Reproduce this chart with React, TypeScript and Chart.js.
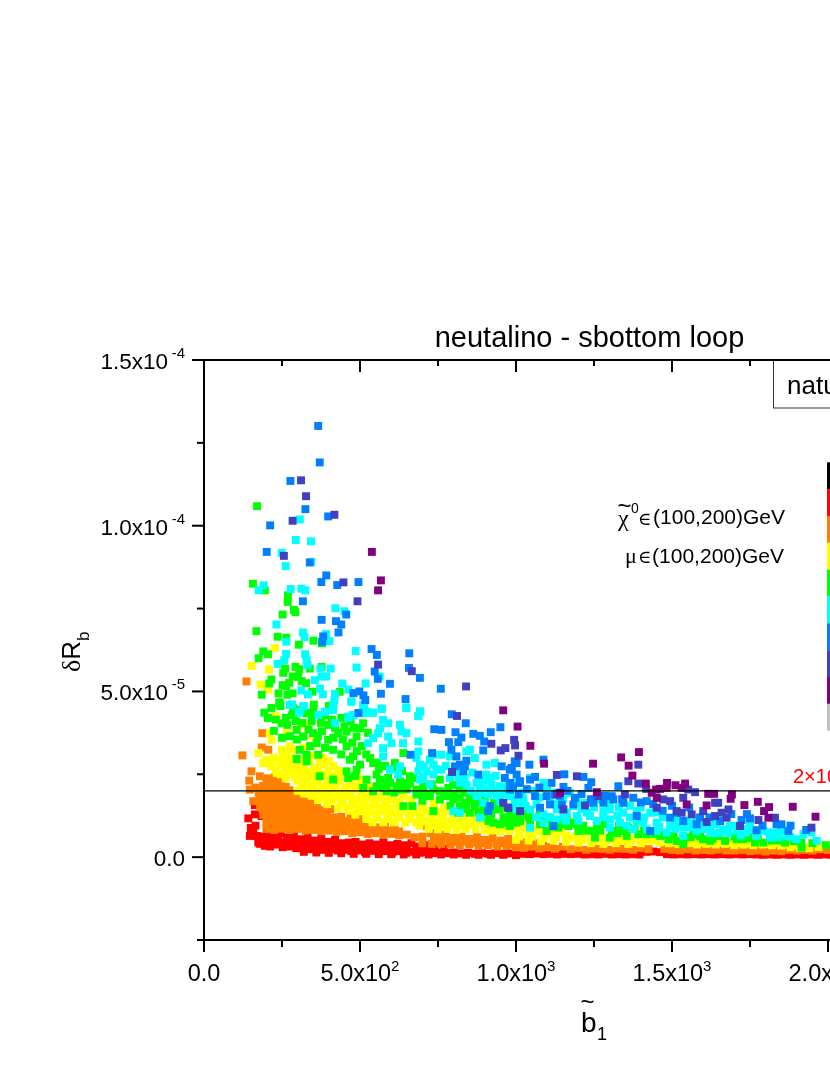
import React, { useEffect, useRef } from "react";
import { Chart, registerables } from "chart.js";

Chart.register(...registerables);

// Each list holds x, y pairs: x = sbottom mass, y = deltaRb in units of 1e-5.
const redPts = [
  163,1.57, 163,1.29, 142,1.17, 185,1.24, 158,.74, 147,.64, 174,.44, 169,.64, 165,.95, 150,.88,
  185,.62, 205,.7, 225,.64, 245,.72, 265,.6, 288,.66, 310,.54, 332,.62, 354,.5, 376,.57, 398,.46, 420,.52,
  442,.42, 464,.44, 486,.46, 508,.38, 530,.42, 552,.38, 575,.45, 597,.36, 620,.4, 642,.36, 665,.42, 688,.32, 710,.36, 733,.3,
  180,.4, 195,.34, 212,.32, 232,.38, 252,.3, 274,.32, 296,.27, 318,.3, 340,.24, 362,.26, 384,.22, 406,.25, 428,.2, 450,.22,
  472,.18, 494,.2, 516,.16, 538,.19, 560,.15, 582,.18, 604,.14, 626,.18, 648,.13, 670,.16, 692,.13, 714,.15, 736,.12, 758,.14,
  780,.12, 802,.14, 824,.11, 846,.13, 868,.1, 890,.12, 912,.1, 934,.12, 956,.1, 978,.11, 1000,.09, 1022,.1, 1044,.09, 1066,.11,
  1088,.09, 1110,.1, 1132,.08, 1154,.1, 1176,.09, 1198,.1, 1220,.08, 1242,.09, 1264,.08, 1286,.1, 1308,.08, 1330,.09, 1352,.08,
  1374,.09, 1396,.08, 1418,.16, 1440,.17, 1462,.15, 1484,.09, 1506,.08, 1528,.09, 1550,.08, 1572,.09, 1594,.08, 1616,.09,
  1638,.08, 1660,.09, 1682,.08, 1704,.09, 1726,.08, 1748,.09, 1770,.08, 1792,.07, 1814,.08, 1836,.07, 1858,.08, 1880,.07,
  1902,.08, 1924,.07, 1946,.08, 1968,.07, 1990,.08, 2010,.07,
  190,.5, 212,.52, 238,.5, 262,.44, 285,.48, 305,.42, 330,.44, 352,.38, 375,.42, 395,.34, 420,.36, 445,.3, 470,.3, 495,.32, 520,.3, 545,.28, 570,.3, 595,.26, 620,.28, 650,.27, 680,.25, 710,.25, 740,.22, 770,.25,
  320,.16, 360,.14, 400,.13, 440,.12, 480,.1, 520,.1, 560,.09, 600,.09, 640,.08, 680,.08, 720,.08, 760,.08, 800,.08, 840,.07, 880,.07, 920,.07, 960,.07, 1000,.06,
];
const orangePts = [
  136,5.3, 187,3.74, 185,3.31, 206,3.24, 123,3.07, 152,2.59, 179,2.44, 145,2.31, 147,2.04, 158,1.69,
  205,2.38, 228,2.42, 250,2.38, 190,2.15, 215,2.18, 238,2.2, 262,2.12, 175,1.95, 198,1.95, 222,1.92, 246,1.98, 270,1.92, 295,1.88,
  178,1.72, 200,1.75, 225,1.72, 250,1.75, 275,1.7, 300,1.72, 325,1.68, 350,1.65,
  180,1.52, 205,1.5, 230,1.52, 255,1.48, 280,1.52, 305,1.5, 330,1.45, 355,1.48, 380,1.42, 405,1.45,
  190,1.28, 215,1.32, 240,1.28, 265,1.3, 290,1.26, 315,1.3, 340,1.25, 365,1.28, 390,1.22, 415,1.2, 440,1.22, 470,1.18, 500,1.15,
  200,1.05, 225,1.08, 250,1.05, 275,1.08, 300,1.02, 325,1.05, 350,1, 375,1.03, 400,1, 430,.98, 460,.98, 490,.95, 520,.92, 550,.9, 580,.92, 610,.88,
  200,.85, 225,.82, 250,.86, 275,.82, 300,.85, 325,.8, 350,.82, 375,.78, 400,.8, 425,.76, 450,.78, 475,.72, 500,.75, 525,.7, 550,.72, 575,.68, 600,.7, 625,.66, 650,.68, 675,.6,
  713,.94, 700,.62, 725,.72, 750,.6, 775,.68, 800,.58, 825,.62, 850,.55, 875,.6, 900,.52, 925,.58, 950,.5, 975,.55, 1000,.48, 1025,.45, 1050,.5, 1075,.42,
  700,.42, 730,.4, 760,.4, 790,.38, 820,.36, 850,.38, 880,.34, 910,.36, 940,.32, 970,.34, 1000,.3, 1025,.28, 1050,.32, 1075,.26, 1100,.3, 1125,.25, 1150,.32, 1175,.24,
  1200,.28, 1225,.22, 1250,.26, 1275,.25, 1300,.22, 1325,.26, 1350,.25, 1375,.22, 1400,.28, 1425,.24, 1475,.25, 1500,.22, 1525,.2, 1550,.24, 1575,.2, 1600,.22,
  1625,.2, 1650,.23, 1675,.2, 1700,.2, 1725,.22, 1750,.18, 1775,.2, 1800,.17, 1825,.2, 1850,.18, 1875,.22, 1900,.2, 1925,.22, 1950,.2, 1975,.24, 2000,.22,
  212,.95, 237,.96, 262,.95, 287,.94, 312,.93, 337,.92, 362,.92, 387,.9, 415,.9, 445,.88, 475,.85, 505,.85, 535,.82, 565,.82, 595,.8, 625,.78,
  202,1.18, 227,1.2, 252,1.16, 277,1.18, 302,1.15, 327,1.16, 352,1.14, 377,1.15, 402,1.12, 427,1.1, 455,1.08, 485,1.05, 515,1.03,
  192,1.4, 217,1.42, 242,1.38, 267,1.4, 292,1.38, 317,1.38, 342,1.36, 367,1.35, 392,1.32,
  190,1.62, 212,1.62, 237,1.6, 262,1.62, 287,1.6, 312,1.6, 337,1.55, 362,1.55, 186,1.84, 210,1.85, 234,1.84, 258,1.86, 283,1.82, 308,1.8,
  165,2.1, 202,2.06, 226,2.05, 250,2.08, 274,2.02, 200,2.28, 222,2.3, 246,2.28,
  737,.5, 762,.5, 787,.48, 812,.46, 837,.46, 862,.44, 887,.42, 912,.44, 937,.4, 962,.42, 987,.38, 1012,.36, 1037,.38, 1062,.34, 1087,.34, 1112,.3,
];
const yellowPts = [
  227,6.31, 153,5.77, 208,5.66, 182,5.21, 205,5.06, 230,4.27, 211,3.74, 174,3.14, 217,3.54, 190,2.84, 201,2.94, 233,2.54, 249,3.24, 265,3.74, 254,3.04, 275,3.34,
  270,2.74, 297,2.69, 318,3.64, 350,3.64, 307,3.99, 329,3.99, 260,3.15, 285,3.25, 318,3.3, 345,3.35,
  225,3, 280,3, 310,2.95, 345,3.05, 380,3, 215,2.75, 250,2.8, 285,2.8, 320,2.7, 355,2.7, 385,2.8, 415,2.75,
  245,2.5, 275,2.55, 310,2.5, 345,2.45, 380,2.5, 415,2.45, 440,2.55, 300,2.3, 330,2.2, 365,2.25, 400,2.2, 435,2.3, 470,2.2, 505,2.25,
  300,2, 345,2.05, 380,2, 415,2.05, 450,2, 485,2.05, 520,2, 545,2.1, 345,1.85, 385,1.8, 420,1.8, 455,1.85, 490,1.75, 525,1.8, 560,1.8, 600,1.75, 640,1.85,
  395,1.6, 440,1.65, 475,1.6, 510,1.55, 545,1.6, 580,1.55, 620,1.6, 660,1.6, 700,1.55, 735,1.65,
  465,1.4, 500,1.4, 535,1.35, 570,1.4, 605,1.35, 640,1.4, 675,1.35, 710,1.4, 745,1.35, 785,1.4,
  520,1.15, 555,1.2, 590,1.15, 625,1.2, 660,1.15, 695,1.2, 730,1.15, 765,1.2, 800,1.15, 835,1.2, 870,1.15,
  690,.95, 725,1, 760,.95, 795,1, 830,.95, 865,1, 900,.95, 935,1, 970,1.05, 1005,1, 1040,.95,
  920,.8, 950,.78, 980,.8, 1010,.75, 1040,.72, 1070,.78, 1100,.7, 1130,.74, 1160,.66, 1190,.62, 1220,.6, 1250,.55, 1280,.58, 1310,.55, 1340,.52, 1370,.56, 1400,.52, 1430,.5,
  1000,.52, 1040,.5, 1080,.48, 1120,.5, 1160,.46, 1200,.44, 1240,.42, 1280,.4, 1320,.42, 1360,.4, 1400,.42, 1460,.44, 1490,.42, 1520,.4, 1550,.42, 1580,.38, 1610,.4, 1640,.38,
  1670,.4, 1700,.36, 1730,.38, 1760,.36, 1790,.38, 1820,.36, 1850,.35, 1880,.3, 1910,.28, 1940,.27, 1970,.3,
  235,2.88, 265,2.9, 300,2.85, 335,2.9, 370,2.88, 400,2.9, 230,2.62, 262,2.65, 295,2.6, 330,2.58, 365,2.6, 400,2.6, 430,2.62,
  262,2.38, 292,2.4, 325,2.35, 360,2.35, 395,2.35, 430,2.4, 465,2.38, 495,2.4, 315,2.12, 350,2.15, 385,2.12, 420,2.12, 455,2.1, 490,2.14, 525,2.12,
  320,1.92, 362,1.95, 400,1.92, 435,1.95, 470,1.92, 505,1.92, 540,1.95, 575,1.92, 365,1.72, 410,1.72, 445,1.72, 480,1.7, 515,1.68, 550,1.7, 585,1.68, 625,1.7, 665,1.72,
  430,1.48, 458,1.5, 492,1.48, 527,1.48, 562,1.48, 597,1.45, 632,1.5, 667,1.48, 702,1.48, 737,1.5, 770,1.5,
  485,1.28, 520,1.28, 553,1.28, 588,1.27, 622,1.28, 657,1.27, 692,1.28, 727,1.25, 762,1.28, 797,1.27, 832,1.3, 868,1.25,
  540,1.05, 575,1.05, 610,1.05, 645,1.04, 680,1.05, 712,1.08, 747,1.08, 780,1.08, 815,1.08, 850,1.08, 885,1.07, 920,1.08, 955,.9,
  720,.85, 750,.85, 780,.85, 810,.82, 840,.85, 870,.85, 900,.82, 930,.88, 960,.9, 990,.9, 1020,.85, 1055,.85, 1085,.85, 1115,.8, 1145,.78,
  1010,.62, 1050,.62, 1090,.6, 1130,.6, 1170,.56, 1210,.52, 1250,.48, 1290,.5, 1330,.5, 1370,.48, 1410,.5, 1450,.52,
  1505,.5, 1535,.46, 1565,.48, 1595,.45, 1625,.46, 1655,.44, 1685,.44, 1715,.43, 1745,.44, 1775,.43, 1805,.42, 1835,.42, 1865,.38, 1895,.35,
];
const greenPts = [
  170,10.59, 157,8.25, 195,8.05, 269,7.9, 268,7.7, 288,7.46, 293,7.39, 252,7.32, 168,6.82, 236,6.65, 264,6.62, 351,6.53, 304,6.41, 190,6.21, 205,6.12, 175,6, 378,6.45,
  260,5.69, 254,5.56, 293,5.74, 305,5.67, 339,5.69, 377,5.74, 284,5.45, 302,5.44, 216,5.36, 209,5.24, 313,5.31, 327,5.25, 252,5.19, 263,5.16, 273,5.26,
  185,4.9, 239,4.94, 267,4.9, 284,4.94, 347,4.99, 435,4.99, 241,4.67, 216,4.5, 245,4.56, 352,4.6, 400,4.56, 193,4.36, 286,4.49, 332,4.35, 350,4.38, 388,4.28, 281,4.28,
  243,4.64, 249,4.04, 224,3.81, 267,3.99, 286,4.29, 307,4.44, 329,4.34, 350,4.29, 297,3.84, 318,3.64, 350,3.74, 398,3.99, 430,3.74, 398,3.54, 457,3.79, 489,3.64, 510,4.04, 500,3.89,
  361,3.44, 307,3.24, 329,3.09, 366,3.09, 414,3.24, 457,3.34, 297,2.96, 329,2.89, 478,3.04, 532,2.99, 612,2.84, 639,3.14, 468,2.94, 500,2.79, 542,2.84, 457,2.59, 371,2.44, 414,2.34, 462,2.39, 489,2.64,
  521,2.34, 553,2.49, 590,2.39, 628,2.29, 660,2.44, 585,2.19, 617,2.14, 660,2.24, 510,2.09, 553,2.14, 681,2.04, 756,2.34, 799,2.19, 735,2.04, 703,2.14, 756,1.99,
  639,1.54, 668,1.54, 724,1.84, 777,1.84, 820,1.79, 863,1.74, 735,1.39, 841,1.64, 868,1.54, 895,1.34, 927,1.44, 852,1.34, 815,1.34, 948,1.44, 911,1.09, 948,.99, 980,1.24, 1002,1.04, 980,.94, 1007,1.29,
  564,2.34, 596,2.24, 644,2.24, 670,2.39, 628,2.04, 585,1.99, 542,1.99, 713,1.89, 681,1.89, 783,2.09, 820,2.04, 852,1.84, 873,1.69, 756,1.74, 799,1.74, 820,1.54, 895,1.49, 916,1.24, 970,1.04, 927,1.04,
  981,1.29, 1008,1.24, 1034,1.29, 986,1.04, 1013,1.09, 1045,1.09, 1077,.99, 1114,1.04, 1163,1.14, 1195,.99, 1200,.79, 1168,.94, 1136,.89, 1098,.79,
  1248,.79, 1259,.94, 1280,.99, 1253,.59, 1307,.79, 1344,.79, 1360,.89, 1392,.69, 1419,.69, 1355,.64, 1488,.54, 1536,.59, 1568,.69, 1536,.39, 1600,.54, 1648,.64, 1670,.49,
  1707,.54, 1766,.44, 1793,.44, 1862,.44, 1915,.44, 1915,.29, 1993,.36, 1301,.59, 1462,.64, 1622,.49, 1729,.54, 1515,.49,
  205,4.2, 230,4.15, 262,4.2, 295,4.1, 315,4.05, 345,4.1, 375,4.05, 410,4.15, 440,4.2, 470,4.1, 420,3.9, 450,3.95, 480,3.9, 525,3.75, 378,3.8, 335,3.85, 275,3.65, 250,3.6, 298,3.55, 365,3.65, 415,3.6, 445,3.55, 475,3.45, 505,3.35,
  340,3.35, 388,3.3, 440,3.1, 490,3.2, 520,3.1, 555,2.85, 580,2.75, 605,2.65, 635,2.6, 560,2.65, 485,2.45,
  650,2.05, 610,1.95, 575,2.1, 700,1.95, 730,2.2, 770,1.95, 800,1.9, 835,1.95, 870,1.85, 900,1.75, 930,1.65, 960,1.55, 985,1.5, 1010,1.45, 1040,1.4, 1075,1.25, 1105,1.2, 1135,1.1,
  700,1.7, 790,1.55, 840,1.45, 880,1.35, 920,1.3, 960,1.2, 1000,1.15, 1040,1.2, 1080,1.1, 1115,.92, 1150,1, 1180,1.05, 1215,.95, 1225,.8, 1270,.8, 1330,.95, 1380,.85, 1325,.72, 1410,.8, 1445,.7, 1475,.68, 1505,.65,
  1560,.6, 1590,.62, 1630,.55, 1700,.62, 1745,.58, 1775,.55, 1820,.5, 1845,.5, 1890,.48, 1950,.42,
];
const cyanPts = [
  307,10.19, 294,9.57, 343,9.53, 249,9.18, 344,8.91, 262,8.78, 191,8.2, 175,8.05, 278,8.09, 312,8.1, 325,8.05, 421,7.51, 450,7.42, 232,7.02, 317,6.78, 322,6.64, 264,6.5, 402,6.52, 391,6.73,
  486,6.22, 324,6.12, 263,6.13, 257,5.94, 236,5.83, 329,5.94, 332,5.79, 373,5.69, 406,5.69, 489,5.72, 563,5.45, 355,5.34, 377,5.45, 392,5.45, 443,5.24, 518,5.24, 463,5.06, 372,5.09, 312,5.03,
  333,4.91, 381,4.91, 420,4.93, 418,4.74, 472,4.7, 414,4.49, 514,4.53, 570,4.47, 648,4.5, 693,4.4, 687,4.25, 541,4.36, 518,4.35, 304,4.36, 320,4.56, 282,4.61, 463,4.21, 479,4.28,
  564,3.89, 558,3.74, 590,4.04, 628,3.99, 649,3.74, 633,3.79, 638,3.44, 590,3.64, 601,3.44, 574,3.29, 526,3.44, 542,3.59, 574,3.04, 687,3.49, 687,3.19, 681,2.99, 692,2.79, 724,2.94, 735,2.79,
  761,3.09, 788,3.04, 852,3.24, 841,3.19, 868,2.99, 905,2.79, 932,2.84, 687,2.59, 713,2.59, 735,2.49, 788,2.39, 873,2.24, 916,2.39, 921,2.19, 948,2.14, 596,2.64, 628,2.74, 622,2.49, 703,2.39,
  841,2.19, 884,2.09, 911,1.89, 938,1.84, 980,1.84, 996,1.74, 1012,1.54, 873,1.84, 895,1.64, 948,1.69, 799,1.39, 884,1.19, 820,1.34, 820,2.24, 815,2.44, 905,2.49, 884,2.34, 692,2.34, 724,2.19, 761,2.64, 735,3.09, 927,1.99, 895,1.94,
  275,4.59, 307,4.39, 318,4.54, 366,4.29, 388,4.39, 420,4.04, 414,4.59, 414,4.44, 462,4.24, 478,4.29, 521,4.39, 542,4.36, 569,4.49, 649,4.52, 692,4.39, 687,4.26, 510,4.59, 473,4.69, 574,4.14,
  1002,2.24, 1045,2.39, 1088,2.24, 981,1.84, 1024,1.74, 1066,1.59, 1109,1.74, 1002,1.44, 1045,1.44, 1088,1.29, 1131,1.44, 1173,1.94, 1184,1.54, 1227,1.64, 1259,1.74, 1280,1.39, 1237,1.24, 1195,1.24, 1163,1.34, 1131,1.14, 1088,1.04, 1045,.89,
  1301,1.44, 1344,1.34, 1387,1.39, 1430,1.34, 1259,1.09, 1301,1.14, 1333,1.04, 1408,1.04, 1451,1.04, 1494,.94, 1483,.74, 1451,.79, 1536,.64, 1568,1.04, 1579,.79, 1622,.94, 1664,.84, 1686,.94, 1654,.74, 1707,.79, 1739,.74, 1771,.64,
  1814,.59, 1835,.74, 1867,.64, 1899,.54, 1921,.69, 1947,.74, 1964,.49, 1355,.94, 1387,1.09, 1376,.84, 1419,.84, 1515,1.04, 1536,.89, 1622,.74, 1750,.94, 1793,.79, 1301,.89, 1227,1.34, 1152,1.24,
  705,2.75, 745,2.65, 775,2.75, 805,2.55, 835,2.4, 860,2.55, 895,2.3, 935,2.45, 960,2.1, 975,2.2, 855,2, 905,2.05, 955,1.9, 1020,1.95, 1060,2, 1100,2, 1130,1.95, 1000,1.65, 1030,1.55, 1075,1.8, 1125,1.6, 1150,1.75, 1200,1.65, 1210,1.45,
  1250,1.5, 1300,1.65, 1330,1.5, 1365,1.55, 1400,1.5, 1445,1.35, 1470,1.2, 1510,1.2, 1545,1.1, 1580,1.15, 1600,1.05, 1640,1, 1700,.95, 1725,.85, 1760,.82, 1810,.75, 1850,.8, 1880,.6, 1110,1.2, 1065,1.2, 1160,1.1, 1200,1.1, 1280,1.2,
  1325,1.25, 1365,1.2, 1410,1.2, 1460,.92, 1510,.85, 1560,.9, 1600,.85, 1640,.72, 1680,.72, 1720,.65, 1840,.6,
];
const bluePts = [
  366,13.01, 371,11.91, 277,11.35, 325,10.5, 398,10.28, 212,10.01, 201,9.21, 339,8.89, 392,8.5, 376,8.3, 427,8.21, 495,8.3, 317,7.72, 456,7.32, 377,7.16, 423,7.12, 440,7.02, 431,6.78, 382,6.66, 379,6.5,
  537,6.28, 554,6.1, 658,6.15, 657,5.71, 692,5.41, 547,5.6, 557,5.38, 596,5.23, 759,5.08, 567,4.93, 479,4.95, 498,5, 511,4.88, 517,4.74, 646,4.77, 495,4.35, 794,4.31,
  662,3.09, 731,3.14, 761,3.84, 738,3.86, 806,3.77, 785,3.47, 815,3.47, 825,3.61, 839,4.04, 863,3.72, 884,3.66, 898,3.49, 919,3.77, 950,3.92, 895,3.22, 809,3.04, 793,3.24, 841,2.91, 820,2.79, 804,2.74,
  879,2.49, 831,2.59, 836,2.74, 954,2.74, 980,2.64, 1002,2.84, 964,2.39, 991,2.14, 1012,2.24, 975,1.49, 916,1.54, 911,1.39, 980,2.04, 1002,2.49, 986,2.69, 996,2.89,
  997,2.84, 986,2.64, 1043,2.79, 1088,2.94, 1013,2.29, 981,2.24, 1045,2.34, 1061,2.42, 1114,2.24, 1155,2.5, 1216,2.42, 1241,2.26, 1232,2.09, 1152,2.12, 1328,2.14, 1061,1.84, 1098,1.84, 1189,1.79, 1125,1.89,
  1307,1.84, 1312,1.74, 1376,1.79, 1419,1.69, 1077,1.49, 1109,1.59, 1147,1.59, 1184,1.59, 1387,1.24, 1515,1.34, 1536,1.09, 1579,.99, 1654,1.09, 1723,1.12, 1750,1.17, 1835,.99, 1851,.99, 1873,.79, 1771,.81,
  1120,.94, 1430,.79, 1248,1.64, 1280,1.64, 1344,1.64, 1494,1.19, 1008,1.89,
  1035,2.05, 1075,2.1, 1140,1.85, 1165,2, 1210,1.9, 1240,1.75, 1285,1.85, 1340,1.75, 1400,1.65, 1440,1.6, 1470,1.4, 1500,1.55, 1555,1.5, 1590,1.2, 1620,1.2, 1690,1.3, 1740,1.3, 1790,.95, 1880,.95, 1930,.82,
];
const indigoPts = [
  311,11.37, 327,10.89, 418,10.33, 284,10.15, 256,9.09, 447,8.29, 492,7.72, 558,5.81, 666,5.61, 840,5.15, 811,4.26, 795,2.57, 921,3.42, 951,3.22, 966,3.29, 975,1.49, 959,1.64,
  994,3.54, 997,3.37, 1008,3.06, 1131,2.48, 1195,2.44, 1360,2.29, 1392,2.79, 1392,2.22, 1417,2.06, 1221,1.56, 1152,1.44, 1472,1.74, 1494,1.69, 1536,1.79, 1515,1.39, 1531,1.34, 1563,1.29, 1451,1.49,
  1638,1.64, 1648,1.64, 1681,1.44, 1638,1.24, 1659,1.34, 1600,1.39, 1611,1.06, 1675,1.19, 1777,1.12, 1830,1.19, 1947,.89, 1718,.94, 1574,1.96, 1552,2.04, 1349,1.89, 1264,1.84, 1131,1.89, 1013,1.39,
];
const purplePts = [
  538,9.21, 567,8.35, 558,8.05, 959,4.43, 1005,3.94, 1046,3.36, 1090,2.82, 1247,2.82, 1337,3.01, 1361,2.76, 1394,3.17, 1373,2.46, 1416,2.22, 1484,2.24, 1511,2.17, 1531,2.09, 1542,2.22, 1449,2.04, 1435,1.94,
  1451,1.79, 1483,2.09, 1462,2.06, 1259,1.96, 1616,1.91, 1635,1.91, 1692,1.89, 1688,1.76, 1732,1.57, 1775,1.67, 1811,1.51, 1795,1.39, 1809,1.19, 1887,1.52, 1960,1.22, 1547,1.59, 1611,1.56, 1141,1.94,
];

const colorBarColors = ["#000000", "#ff0000", "#ff8000", "#ffff00", "#00ff00", "#00ffff", "#0080ff", "#4040c0", "#800080", "#c0c0c0"];
const seriesLists = [purplePts, indigoPts, bluePts, cyanPts, greenPts, yellowPts, orangePts, redPts];
const seriesColors = ["#800080", "#4040c0", "#0080ff", "#00ffff", "#00ff00", "#ffff00", "#ff8000", "#ff0000"];

const xTickValues = [0, 500, 1000, 1500, 2000, 2500];
const xTickBases = ["0.0", "5.0x10", "1.0x10", "1.5x10", "2.0x10", "2.5x10"];
const xTickExps = ["", "2", "3", "3", "3", "3"];
const xMinorValues = [250, 750, 1250, 1750, 2250];
const yTickValues = [0, 5e-5, 1e-4, 1.5e-4];
const yTickBases = ["0.0", "5.0x10", "1.0x10", "1.5x10"];
const yTickExps = ["", "-5", "-4", "-4"];
const yMinorValues = [-2.5e-5, 2.5e-5, 7.5e-5, 1.25e-4];
const limitValue = 2e-5;

const SANS = '"Liberation Sans", Arial, sans-serif';
const SERIF = '"Liberation Serif", "DejaVu Serif", serif';

const toPoints = (list: number[]) => {
  const out: { x: number; y: number }[] = [];
  for (let i = 0; i < list.length; i += 2) out.push({ x: list[i], y: list[i + 1] * 1e-5 });
  return out;
};

const decorations = {
  id: "decorations",
  afterDraw(chart: any) {
    const { ctx, chartArea, scales } = chart;
    const { x: xs, y: ys } = scales;
    const L = chartArea.left, T = chartArea.top, B = chartArea.bottom, R = chartArea.right;
    ctx.save();
    ctx.fillStyle = ctx.strokeStyle = "#000";
    ctx.textBaseline = "alphabetic";

    const line = (x1: number, y1: number, x2: number, y2: number, w = 2) => {
      ctx.lineWidth = w;
      ctx.beginPath();
      ctx.moveTo(x1, y1);
      ctx.lineTo(x2, y2);
      ctx.stroke();
    };
    const text = (s: string, x: number, y: number, font: string, align: CanvasTextAlign = "left") => {
      ctx.font = font;
      ctx.textAlign = align;
      ctx.fillText(s, x, y);
      return ctx.measureText(s).width;
    };

    // axis frame and tick marks
    line(L, T - 1, L, B + 1);
    line(L, T, R, T);
    line(L, B, R, B);
    xTickValues.forEach((v) => {
      const p = xs.getPixelForValue(v);
      line(p, B, p, B + 12);
      line(p, T, p, T + 12);
    });
    xMinorValues.forEach((v) => {
      const p = xs.getPixelForValue(v);
      line(p, B, p, B + 7);
      line(p, T, p, T + 6);
    });
    yTickValues.forEach((v) => {
      const p = ys.getPixelForValue(v);
      line(L - 12, p, L, p);
    });
    yMinorValues.forEach((v) => {
      const p = ys.getPixelForValue(v);
      line(L - 7, p, L, p);
    });

    // tick labels
    const big = `22.5px ${SANS}`;
    const bigX = `23.5px ${SANS}`;
    const sup = `15px ${SANS}`;
    xTickValues.forEach((v, i) => {
      const p = xs.getPixelForValue(v);
      const base = xTickBases[i], exp = xTickExps[i];
      ctx.font = bigX;
      const bw = ctx.measureText(base).width;
      ctx.font = sup;
      const ew = exp ? ctx.measureText(exp).width : 0;
      const start = p - (bw + ew) / 2;
      text(base, start, 981, bigX);
      if (exp) text(exp, start + bw, 971, sup);
    });
    yTickValues.forEach((v, i) => {
      const p = ys.getPixelForValue(v);
      const base = yTickBases[i], exp = yTickExps[i];
      if (exp) {
        text(exp, 185, p - 2, sup, "right");
        text(base, 168, p + 9, big, "right");
      } else {
        text(base, 185, p + 9, big, "right");
      }
    });

    // title
    text("neutalino - sbottom loop", 589.5, 347, `29px ${SANS}`, "center");

    // y axis title
    ctx.save();
    ctx.translate(80, 672);
    ctx.rotate(-Math.PI / 2);
    const w1 = text("\u03B4", 0, 0, `26px ${SERIF}`);
    const w2 = text("R", w1, 0, `26px ${SANS}`);
    text("b", w1 + w2, 9, `17px ${SANS}`);
    ctx.restore();

    // x axis title
    text("b", 581, 1032, `28px ${SANS}`);
    ctx.save();
    ctx.translate(587.5, 1010);
    text("~", 0, 0, `24px ${SANS}`, "center");
    ctx.restore();
    text("1", 597, 1040, `18px ${SANS}`);

    // annotations
    text("\u03C7", 618, 526, `24px ${SERIF}`);
    text("~", 624.5, 514, `24px ${SANS}`, "center");
    text("0", 631, 513, `14px ${SANS}`);
    text("\u2208", 638, 525, `18px ${SERIF}`);
    text("(100,200)GeV", 785, 524, `21px ${SANS}`, "right");
    text("\u03BC", 625, 563, `22px ${SERIF}`);
    text("\u2208", 638, 563, `18px ${SERIF}`);
    text("(100,200)GeV", 784, 563, `21px ${SANS}`, "right");

    // boxed label
    ctx.fillStyle = "#fff";
    ctx.fillRect(773, T, 220, 48);
    ctx.fillStyle = "#000";
    ctx.lineWidth = 1;
    ctx.strokeStyle = "#333";
    ctx.strokeRect(773.5, T, 220, 48);
    ctx.strokeStyle = "#000";
    line(760, T, 830, T);
    text("natural", 787, 394, `26px ${SANS}`);

    // colour bar, cut off by the page edge
    const barLeft = xs.getPixelForValue(2000) - 1;
    colorBarColors.forEach((c, i) => {
      ctx.fillStyle = c;
      ctx.fillRect(barLeft, 462.3 + i * 26.84, 40, 26.84);
    });

    // limit label
    ctx.fillStyle = "#ff0000";
    const lw = text("2\u00D710", 793, 783, `20px ${SANS}`);
    text("-5", 793 + lw, 775, `13px ${SANS}`);
    ctx.restore();
  },
};

export default function App() {
  const ref = useRef<HTMLCanvasElement>(null);
  useEffect(() => {
    const chart = new Chart(ref.current as HTMLCanvasElement, {
      type: "scatter",
      data: {
        datasets: [
          {
            data: [{ x: 0, y: limitValue }, { x: 2500, y: limitValue }],
            showLine: true,
            borderColor: "#000",
            borderWidth: 1.2,
            pointRadius: 0,
            order: 0,
          } as any,
          ...seriesLists.map((list, i) => ({
            data: toPoints(list),
            pointStyle: "rect",
            pointRadius: 5.6,
            pointBorderWidth: 0,
            pointBackgroundColor: seriesColors[i],
            showLine: false,
            order: i + 1,
          })),
        ],
      },
      options: {
        responsive: false,
        animation: false,
        devicePixelRatio: 1,
        layout: { padding: { left: 204, top: 360, right: 116, bottom: 135 } },
        plugins: { legend: { display: false }, tooltip: { enabled: false } },
        scales: {
          x: { display: false, type: "linear", min: 0, max: 2500 },
          y: { display: false, type: "linear", min: -2.5e-5, max: 1.5e-4 },
        },
      },
      plugins: [decorations],
    });
    return () => chart.destroy();
  }, []);
  return (
    <div style={{ position: "absolute", left: 0, top: 0, width: 830, height: 1075, overflow: "hidden", background: "#fff" }}>
      <canvas ref={ref} width={1100} height={1075} style={{ display: "block" }} />
    </div>
  );
}
